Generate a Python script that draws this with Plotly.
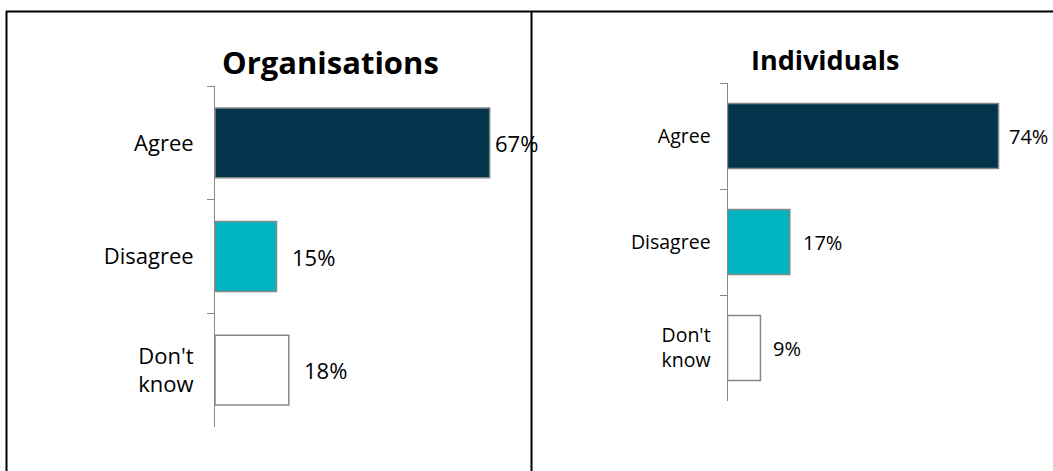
import plotly.graph_objects as go

# Survey responses by respondent group
categories = ["Agree", "Disagree", "Don't<br>know"]
organisations = [67, 15, 18]
individuals = [74, 17, 9]
bar_colors = ["#04344C", "#00B5C0", "#FFFFFF"]

W, H = 1053, 471
FONT = "Open Sans"


def px_x(p):
    return p / W


def px_y(p):
    return 1 - p / H


fig = go.Figure()

fig.add_trace(go.Bar(
    x=organisations, y=categories, orientation="h",
    marker=dict(color=bar_colors, line=dict(color="#868686", width=1.5)),
    xaxis="x", yaxis="y", showlegend=False, hoverinfo="skip",
))
fig.add_trace(go.Bar(
    x=individuals, y=categories, orientation="h",
    marker=dict(color=bar_colors, line=dict(color="#868686", width=1.5)),
    xaxis="x2", yaxis="y2", showlegend=False, hoverinfo="skip",
))

# value labels next to each bar
annotations = []
for vals, xref, yref, shifts, size in [
    (organisations, "x", "y", [3, 13, 13], 22),
    (individuals, "x2", "y2", [8, 11, 11], 20),
]:
    for cat, v, s in zip(categories, vals, shifts):
        annotations.append(dict(
            x=v, y=cat, xref=xref, yref=yref, text=f"{v}%",
            xanchor="left", yanchor="middle", xshift=s, showarrow=False,
            font=dict(family=FONT, size=size, color="#000000"),
        ))

# panel titles
annotations.append(dict(
    x=px_x(330), y=px_y(62), xref="paper", yref="paper", text="<b>Organisations</b>",
    showarrow=False, xanchor="center", yanchor="middle",
    font=dict(family=FONT, size=31, color="#000000"),
))
annotations.append(dict(
    x=px_x(825), y=px_y(60), xref="paper", yref="paper", text="<b>Individuals</b>",
    showarrow=False, xanchor="center", yanchor="middle",
    font=dict(family=FONT, size=27, color="#000000"),
))

# frame lines around the two panels
line = dict(color="#000000", width=2)
shapes = [
    dict(type="line", xref="paper", yref="paper", x0=px_x(6), x1=1, y0=px_y(11.5), y1=px_y(11.5), line=line),
    dict(type="line", xref="paper", yref="paper", x0=px_x(6.5), x1=px_x(6.5), y0=px_y(11), y1=0, line=line),
    dict(type="line", xref="paper", yref="paper", x0=px_x(531.5), x1=px_x(531.5), y0=px_y(11), y1=0, line=line),
]

xaxis_common = dict(range=[0, 80], showgrid=False, zeroline=False, showline=False,
                    showticklabels=False, ticks="", fixedrange=True)
yaxis_common = dict(autorange="reversed", showgrid=False, zeroline=False, showline=True,
                    linecolor="#888888", linewidth=1, ticks="outside", tickson="boundaries",
                    ticklen=7, tickcolor="#888888", tickwidth=1, fixedrange=True)

fig.update_layout(
    width=W, height=H,
    margin=dict(l=0, r=0, t=0, b=0),
    paper_bgcolor="#FFFFFF", plot_bgcolor="rgba(0,0,0,0)",
    bargap=0.386,
    xaxis=dict(domain=[px_x(215), px_x(543)], anchor="y", **xaxis_common),
    yaxis=dict(domain=[px_y(427), px_y(86)], anchor="x", ticklabelstandoff=16,
               tickfont=dict(family=FONT, size=22, color="#000000"), **yaxis_common),
    xaxis2=dict(domain=[px_x(727.5), px_x(1020.5)], anchor="y2", **xaxis_common),
    yaxis2=dict(domain=[px_y(401), px_y(83)], anchor="x2", ticklabelstandoff=12,
                tickfont=dict(family=FONT, size=19.5, color="#000000"), **yaxis_common),
    annotations=annotations,
    shapes=shapes,
)

fig.write_html("out.html")
